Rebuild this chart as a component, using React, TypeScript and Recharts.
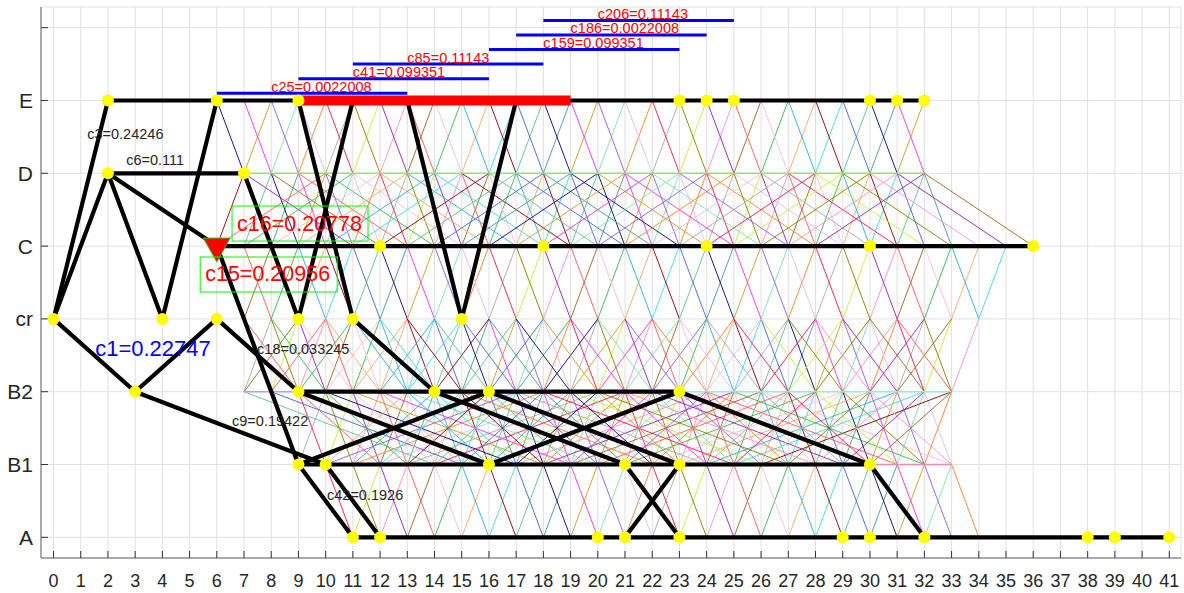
import React from 'react'
import {
	ComposedChart,
	XAxis,
	YAxis,
	CartesianGrid,
	ReferenceLine,
	ReferenceDot,
	Scatter,
} from 'recharts'

// level names on the y axis (A = 1 ... E = 7, 8 has no label)
const levelNames = ['A', 'B1', 'B2', 'cr', 'C', 'D', 'E', '']
const lv: Record<string, number> = { A: 1, B1: 2, B2: 3, cr: 4, C: 5, D: 6, E: 7 }
const xTicks = [
	0, 1, 2, 3, 4, 5, 6, 7, 8, 9, 10, 11, 12, 13, 14, 15, 16, 17, 18, 19, 20,
	21, 22, 23, 24, 25, 26, 27, 28, 29, 30, 31, 32, 33, 34, 35, 36, 37, 38, 39,
	40, 41,
]
const yTicks = [1, 2, 3, 4, 5, 6, 7, 8]
const xDomain = [-0.46, 41.43]
const yDomain = [0.716, 8.284]

// chosen path (thick black edges): [x1, level1, x2, level2]
const pathEdges: [number, string, number, string][] = [
	[0, 'cr', 2, 'E'],
	[0, 'cr', 2, 'D'],
	[0, 'cr', 3, 'B2'],
	[3, 'B2', 6, 'cr'],
	[2, 'D', 4, 'cr'],
	[6, 'E', 4, 'cr'],
	[2, 'D', 7, 'D'],
	[2, 'E', 32, 'E'],
	[2, 'D', 6, 'C'],
	[6, 'C', 36, 'C'],
	[6, 'C', 9, 'B1'],
	[6, 'cr', 9, 'B2'],
	[3, 'B2', 10, 'B1'],
	[7, 'D', 9, 'cr'],
	[9, 'E', 11, 'cr'],
	[11, 'E', 9, 'cr'],
	[13, 'E', 15, 'cr'],
	[17, 'E', 15, 'cr'],
	[11, 'cr', 14, 'B2'],
	[9, 'B2', 23, 'B2'],
	[9, 'B2', 16, 'B1'],
	[9, 'B1', 16, 'B2'],
	[14, 'B2', 21, 'B1'],
	[16, 'B2', 23, 'B1'],
	[16, 'B1', 23, 'B2'],
	[23, 'B2', 30, 'B1'],
	[9, 'B1', 30, 'B1'],
	[9, 'B1', 11, 'A'],
	[10, 'B1', 12, 'A'],
	[21, 'B1', 23, 'A'],
	[23, 'B1', 21, 'A'],
	[30, 'B1', 32, 'A'],
	[11, 'A', 41, 'A'],
]

// yellow nodes per level
const nodesA = [11, 12, 20, 21, 23, 29, 30, 32, 38, 39, 41]
const nodesB1 = [9, 10, 16, 21, 23, 30]
const nodesB2 = [3, 9, 14, 16, 23]
const nodesCr = [0, 4, 6, 9, 11, 15]
const nodesC = [12, 18, 24, 30, 36]
const nodesD = [2, 7]
const nodesE = [2, 6, 9, 23, 24, 25, 30, 31, 32]

// blue bars above E
const barNames = ['c25', 'c41', 'c85', 'c159', 'c186', 'c206']
const barValues = ['0.0022008', '0.099351', '0.11143', '0.099351', '0.0022008', '0.11143']
const barStart = [6, 9, 11, 16, 17, 18]
const barEnd = [13, 16, 18, 23, 24, 25]
const barLevel = [7.1, 7.3, 7.5, 7.7, 7.9, 8.1]
const barLabelX = [8, 11, 13, 18, 19, 20]

// red block on E
const redBlock = [9, 19]

// small annotations
const noteText = ['c3=0.24246', 'c6=0.111', 'c18=0.033245', 'c9=0.19422', 'c42=0.1926']
const noteX = [1.24, 2.67, 7.48, 6.56, 10.05]
const noteY = [6.54, 6.18, 3.59, 2.6, 1.58]

// thin mesh: x range of nodes at each level (A..E)
const meshLo = [11, 9, 7, 7, 6, 7, 6]
const meshHi = [35, 33, 33, 34, 35, 32, 32]

// long thin edges: lower level, upper level, x shift, lower x range
const longLower = ['B1', 'B1', 'B1', 'B1', 'C', 'C', 'B2', 'B2']
const longUpper = ['B2', 'B2', 'B2', 'B2', 'D', 'D', 'cr', 'cr']
const longShift = [7, -7, 3, -3, -4, 4, 2, -2]
const longFrom = [9, 14, 10, 12, 11, 6, 7, 9]
const longTo = [26, 33, 30, 33, 36, 28, 31, 33]

// thin horizontal segments: level, from, to, colour
const flatLevel = ['D', 'B2', 'B2', 'B1']
const flatFrom = [7, 7, 23, 30]
const flatTo = [32, 9, 33, 33]
const flatColor = ['#9be655', '#b89cff', '#8ff0d8', '#f08ab4']

const meshColors = [
	'#e6194b', '#3cb44b', '#4363d8', '#f58231', '#911eb4', '#42d4f4',
	'#f032e6', '#bfef45', '#fabed4', '#469990', '#dcbeff', '#9a6324',
	'#800000', '#7fe0a8', '#808000', '#f5a76c', '#000075', '#a9a9a9',
	'#ff5a5a', '#5fbf8f', '#8a5cf0', '#ff8fc8', '#2fa8e0', '#c99a2e',
]

type Seg = { x1: number; y1: number; x2: number; y2: number; color: string }

const thinEdges: Seg[] = []
let ci = 0
const nextColor = () => meshColors[(ci++ * 7) % meshColors.length]
for (let l = 1; l < 7; l++) {
	for (let x = meshLo[l - 1]; x <= meshHi[l - 1]; x++) {
		for (const d of [-1, 1]) {
			const x2 = x + d
			if (x2 >= meshLo[l] && x2 <= meshHi[l])
				thinEdges.push({ x1: x, y1: l, x2, y2: l + 1, color: nextColor() })
		}
	}
}
longLower.forEach((lo, i) => {
	for (let x = longFrom[i]; x <= longTo[i]; x++) {
		thinEdges.push({ x1: x, y1: lv[lo], x2: x + longShift[i], y2: lv[longUpper[i]], color: nextColor() })
	}
})

const nodeLists: [string, number[]][] = [
	['A', nodesA],
	['B1', nodesB1],
	['B2', nodesB2],
	['cr', nodesCr],
	['C', nodesC],
	['D', nodesD],
	['E', nodesE],
]
const nodeData = nodeLists.flatMap(([l, xs]) => xs.map((x) => ({ x, y: lv[l] })))

const font = 'Arial, "Liberation Sans", Helvetica, sans-serif'
const noTick = () => <g />
const yellowDot = (p: any) => <circle cx={p.cx} cy={p.cy} r={6} fill='#ffff00' />
const xTickLabel = (p: any) => (
	<text x={p.x} y={p.y} dy='0.71em' textAnchor='middle' fontSize={18} fill='#262626'>
		<tspan>{`\u200b${p.payload.value}`}</tspan>
	</text>
)

export default function App() {
	return (
		<div style={{ position: 'absolute', left: 0, top: 0, background: '#fff', fontFamily: font }}>
			<ComposedChart
				width={1184}
				height={593}
				data={nodeData}
				margin={{ top: 7, right: 3, bottom: 0, left: 0 }}>
				<CartesianGrid stroke='#e0e0e0' />
				<XAxis
					dataKey='x'
					type='number'
					domain={xDomain}
					ticks={xTicks}
					interval={0}
					minTickGap={0}
					height={35}
					tickSize={-7}
					tickMargin={23}
					tick={xTickLabel}
					axisLine={{ stroke: '#666' }}
					tickLine={{ stroke: '#333' }}
				/>
				<XAxis
					xAxisId='top'
					dataKey='x'
					orientation='top'
					type='number'
					domain={xDomain}
					ticks={xTicks}
					interval={0}
					height={0}
					tickSize={-7}
					tick={noTick}
					axisLine={{ stroke: '#666' }}
					tickLine={{ stroke: '#333' }}
				/>
				<YAxis
					dataKey='y'
					type='number'
					domain={yDomain}
					ticks={yTicks}
					interval={0}
					width={41}
					tickSize={-7}
					tickMargin={15}
					tickFormatter={(v: number) => levelNames[v - 1]}
					tick={{ fontSize: 21, fill: '#262626' }}
					axisLine={{ stroke: '#666' }}
					tickLine={{ stroke: '#333' }}
				/>
				<YAxis
					yAxisId='right'
					dataKey='y'
					orientation='right'
					type='number'
					domain={yDomain}
					ticks={yTicks}
					interval={0}
					width={0}
					tickSize={-7}
					tick={noTick}
					axisLine={{ stroke: '#666' }}
					tickLine={{ stroke: '#333' }}
				/>

				{/* thin mesh */}
				{thinEdges.map((e, i) => (
					<ReferenceLine
						key={`t-${i}`}
						segment={[{ x: e.x1, y: e.y1 }, { x: e.x2, y: e.y2 }]}
						stroke={e.color}
						strokeWidth={1}
						strokeOpacity={0.9}
					/>
				))}
				{flatLevel.map((l, i) => (
					<ReferenceLine
						key={`f-${i}`}
						segment={[{ x: flatFrom[i], y: lv[l] }, { x: flatTo[i], y: lv[l] }]}
						stroke={flatColor[i]}
						strokeWidth={1.5}
					/>
				))}

				{/* thick path */}
				{pathEdges.map((e, i) => (
					<ReferenceLine
						key={`p-${i}`}
						segment={[{ x: e[0], y: lv[e[1]] }, { x: e[2], y: lv[e[3]] }]}
						stroke='#000'
						strokeWidth={4.2}
					/>
				))}
				<ReferenceLine
					segment={[{ x: redBlock[0], y: lv.E }, { x: redBlock[1], y: lv.E }]}
					stroke='#ff0000'
					strokeWidth={10}
				/>

				{/* blue bars with labels */}
				{barNames.map((n, i) => (
					<ReferenceLine
						key={`b-${i}`}
						segment={[{ x: barStart[i], y: barLevel[i] }, { x: barEnd[i], y: barLevel[i] }]}
						stroke='#0000ff'
						strokeWidth={3}
					/>
				))}

				{/* yellow nodes */}
				<Scatter dataKey='y' fill='#ffff00' shape={yellowDot} isAnimationActive={false} />

				{barNames.map((n, i) => (
					<ReferenceDot
						key={`bl-${i}`}
						x={barLabelX[i]}
						y={barLevel[i]}
						r={1}
						shape={(p: any) => (
							<text x={p.cx} y={p.cy - 1.5} fontSize={14.5} fill='#ff0000' textAnchor='start'>
								{`${n}=${barValues[i]}`}
							</text>
						)}
					/>
				))}

				{/* red triangle marker at C6 */}
				<ReferenceDot
					x={6}
					y={lv.C}
					r={1}
					shape={(p: any) => (
						<polygon
							points={`${p.cx - 13.5},${p.cy - 8} ${p.cx + 13.5},${p.cy - 8} ${p.cx},${p.cy + 16}`}
							fill='#ff0000'
							stroke='#22cc22'
							strokeWidth={1}
						/>
					)}
				/>

				{/* boxed labels */}
				<ReferenceDot
					x={6.56}
					y={5.31}
					r={1}
					shape={(p: any) => (
						<g>
							<rect x={p.cx} y={p.cy - 17.5} width={136} height={35} fill='none' stroke='#00ff00' strokeWidth={1} />
							<text x={p.cx + 5} y={p.cy} dominantBaseline='central' fontSize={21.5} fill='#ff0000'>
								c16=0.20778
							</text>
						</g>
					)}
				/>
				<ReferenceDot
					x={5.39}
					y={4.61}
					r={1}
					shape={(p: any) => (
						<g>
							<rect x={p.cx} y={p.cy - 17.5} width={137} height={35} fill='none' stroke='#00ff00' strokeWidth={1} />
							<text x={p.cx + 5} y={p.cy} dominantBaseline='central' fontSize={21.5} fill='#ff0000'>
								c15=0.20956
							</text>
						</g>
					)}
				/>

				<ReferenceDot
					x={1.53}
					y={3.6}
					r={1}
					shape={(p: any) => (
						<text x={p.cx} y={p.cy} dominantBaseline='central' fontSize={22} fill='#0000ff'>
							c1=0.22747
						</text>
					)}
				/>

				{noteText.map((t, i) => (
					<ReferenceDot
						key={`nt-${i}`}
						x={noteX[i]}
						y={noteY[i]}
						r={1}
						shape={(p: any) => (
							<text x={p.cx} y={p.cy} dominantBaseline='central' fontSize={14.5} fill='#262626'>
								{t}
							</text>
						)}
					/>
				))}
			</ComposedChart>
		</div>
	)
}
